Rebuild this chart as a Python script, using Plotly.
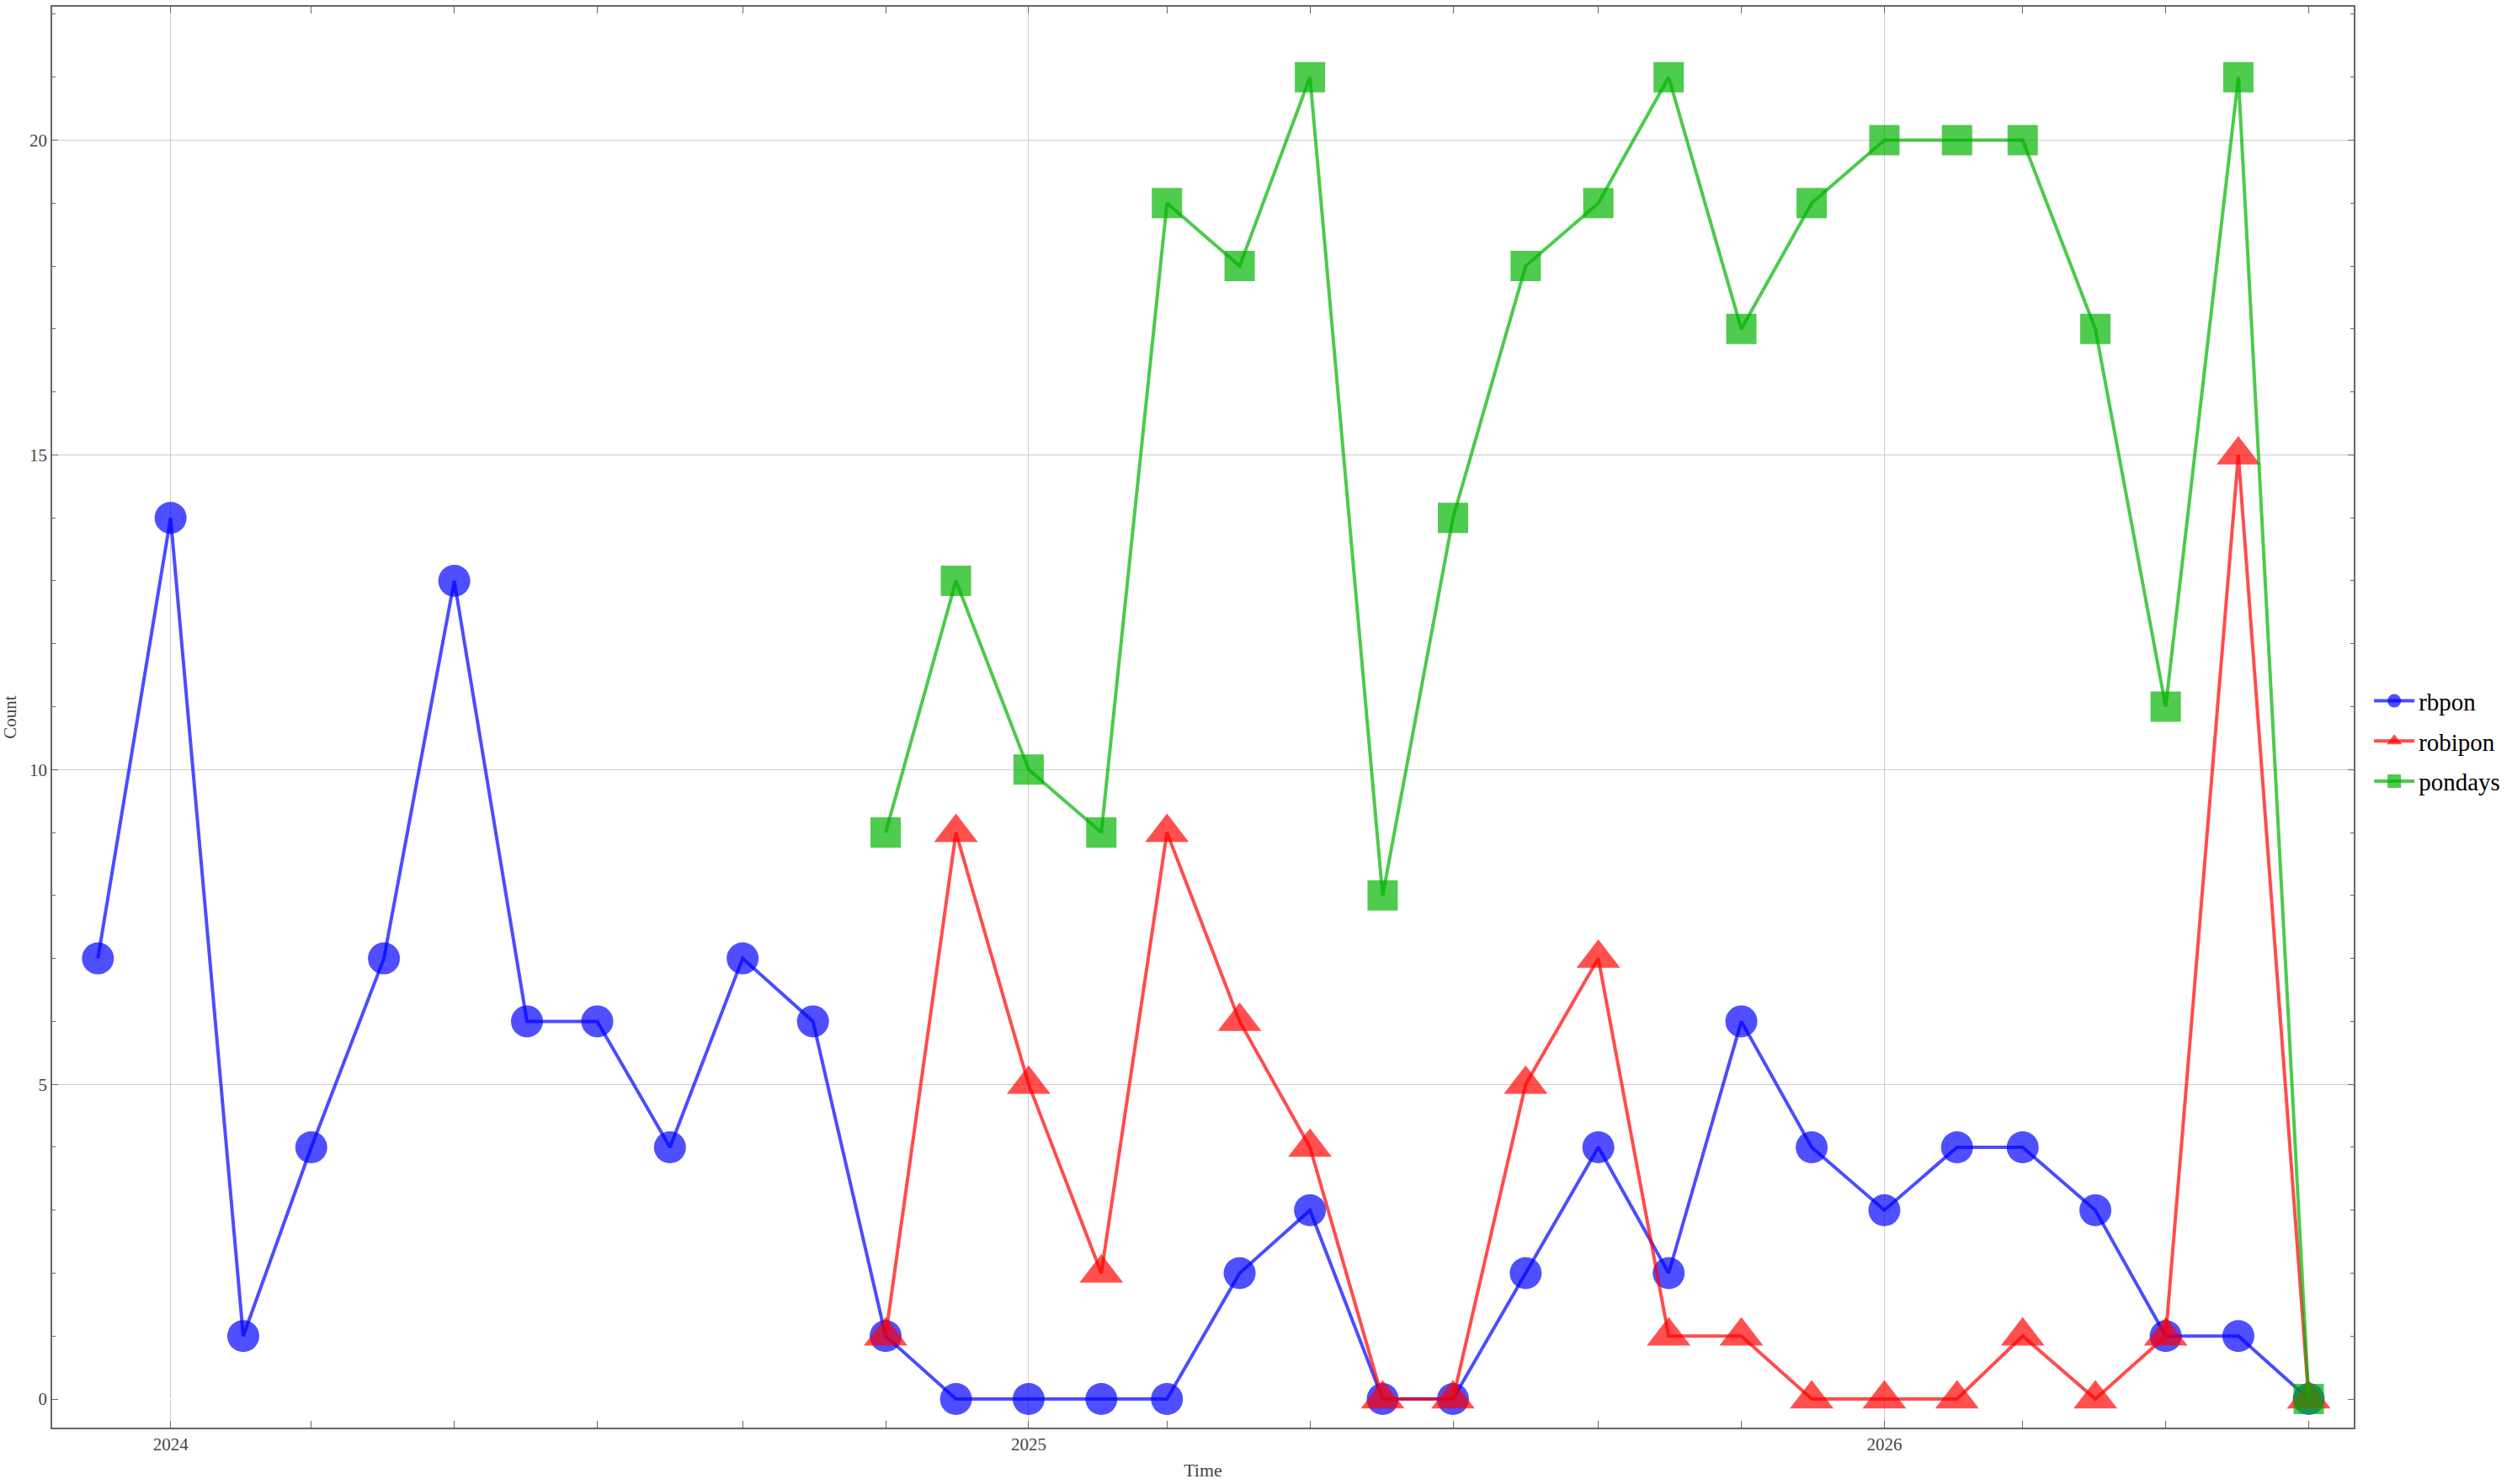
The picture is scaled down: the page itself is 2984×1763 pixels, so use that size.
import plotly.graph_objects as go

dates_all = ["2023-12-01", "2024-01-01", "2024-02-01", "2024-03-01", "2024-04-01", "2024-05-01",
             "2024-06-01", "2024-07-01", "2024-08-01", "2024-09-01", "2024-10-01", "2024-11-01",
             "2024-12-01", "2025-01-01", "2025-02-01", "2025-03-01", "2025-04-01", "2025-05-01",
             "2025-06-01", "2025-07-01", "2025-08-01", "2025-09-01", "2025-10-01", "2025-11-01",
             "2025-12-01", "2026-01-01", "2026-02-01", "2026-03-01", "2026-04-01", "2026-05-01",
             "2026-06-01", "2026-07-01"]
rbpon = [7, 14, 1, 4, 7, 13, 6, 6, 4, 7, 6, 1, 0, 0, 0, 0, 2, 3, 0, 0, 2, 4, 2, 6, 4,
         3, 4, 4, 3, 1, 1, 0]

dates_late = dates_all[11:]
robipon = [1, 9, 5, 2, 9, 6, 4, 0, 0, 5, 7, 1, 1, 0, 0, 0, 1, 0, 1, 15, 0]
pondays = [9, 13, 10, 9, 19, 18, 21, 8, 14, 18, 19, 21, 17, 19, 20, 20, 20, 17, 11, 21, 0]

FONT = "Liberation Serif"
FRAME = "#666666"

fig = go.Figure()
series = [
    ("rbpon", dates_all, rbpon, "circle", 38, (0, 0, 255)),
    ("robipon", dates_late, robipon, "triangle-up", 45, (255, 0, 0)),
    ("pondays", dates_late, pondays, "square", 36, (0, 180, 0)),
]
for name, xs, ys, sym, size, (r, g, b) in series:
    fig.add_trace(go.Scatter(
        x=xs, y=ys, name=name, mode="lines+markers", legendgroup=name,
        line=dict(color=f"rgba({r},{g},{b},0.7)", width=4),
        marker=dict(symbol=sym, size=size, color=f"rgba({r},{g},{b},0.69)",
                    line=dict(width=0)),
    ))

fig.update_layout(
    width=2984, height=1763,
    margin=dict(l=62, r=188, t=6, b=67),
    paper_bgcolor="white", plot_bgcolor="white",
    font=dict(family=FONT, size=21, color="#444444"),
    showlegend=True,
    legend=dict(x=1.007, xanchor="left", y=0.483, yanchor="middle",
                font=dict(family=FONT, size=29, color="black"),
                itemwidth=48,
                tracegroupgap=7, bgcolor="rgba(0,0,0,0)"),
)
fig.update_xaxes(
    type="date", range=["2023-11-11 12:00", "2026-07-20 05:00"],
    tick0="2024-01-01", dtick="M12", tickformat="%Y",
    ticks="inside", ticklen=8, tickwidth=1.3, tickcolor=FRAME,
    showgrid=True, gridcolor="#cccccc", gridwidth=1,
    minor=dict(dtick="M2", tick0="2024-01-01", ticks="inside", ticklen=8,
               tickwidth=1.3, tickcolor=FRAME, showgrid=False),
    showline=True, linecolor=FRAME, linewidth=1.5, mirror="ticks",
    zeroline=False,
    title=dict(text="Time", font=dict(family=FONT, size=22, color="#444444"), standoff=12),
    tickfont=dict(family=FONT, size=21, color="#444444"),
)
fig.update_yaxes(
    range=[-0.454, 22.12], tick0=0, dtick=5,
    ticks="inside", ticklen=7, tickwidth=1.3, tickcolor=FRAME,
    showgrid=True, gridcolor="#cccccc", gridwidth=1,
    zeroline=True, zerolinecolor="white", zerolinewidth=3,
    minor=dict(dtick=1, ticks="inside", ticklen=4, tickwidth=1.3,
               tickcolor=FRAME, showgrid=False),
    showline=True, linecolor=FRAME, linewidth=1.5, mirror="ticks",
    title=dict(text="Count", font=dict(family=FONT, size=21, color="#444444"), standoff=10),
    tickfont=dict(family=FONT, size=21, color="#444444"),
)

fig.write_html("out.html")
